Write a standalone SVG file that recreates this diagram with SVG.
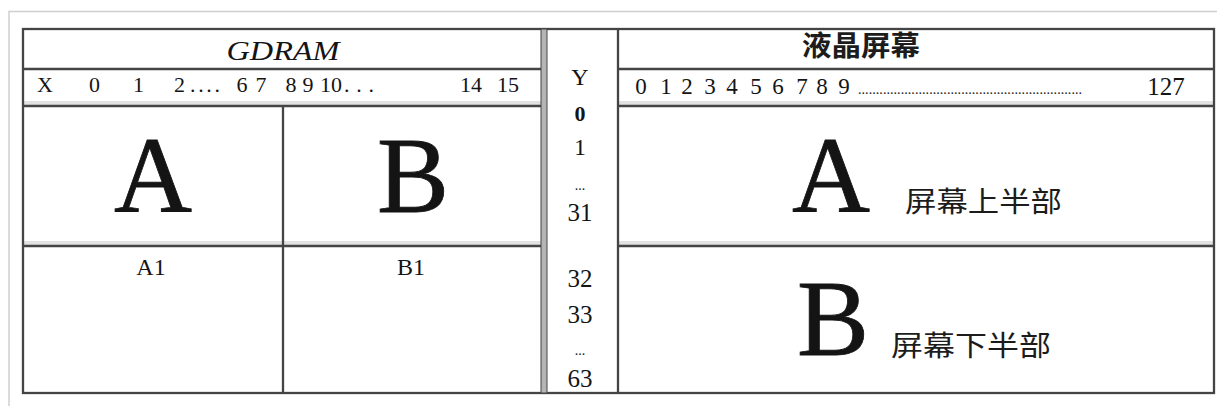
<svg xmlns="http://www.w3.org/2000/svg" width="1217" height="406" viewBox="0 0 1217 406">
<style>
.frame{stroke:#cfcfcf;stroke-width:1.5;fill:none}
.ln{stroke:#444;stroke-width:2.3;fill:none}
.shade{fill:#e2e2e2}
.t{font-family:"Liberation Serif","Times New Roman",serif;fill:#141414}
.c{text-anchor:middle}
.big{stroke:#141414;stroke-width:0.8}
.cjk{font-family:"Noto Sans CJK SC","Noto Sans CJK TC",sans-serif;fill:#1c1c1c}
</style>
<rect width="1217" height="406" fill="#ffffff"/>
<!-- outer light frame -->
<path class="frame" d="M9 406 V11.5 H1217"/>

<g id="grid">
  <rect class="shade" x="23" y="241" width="520" height="5"/>
  <rect class="shade" x="618" y="241" width="596" height="5"/>
  <rect class="shade" x="23" y="101" width="520" height="4"/>
  <rect class="shade" x="618" y="101" width="596" height="4"/>
  <rect class="ln" x="23" y="29" width="1191" height="364"/>
  <path class="ln" d="M23 69 H543 M618 69 H1214 M23 106 H543 M618 106 H1214 M23 246 H543 M618 246 H1214"/>
  <path class="ln" d="M283 106 V393 M618 29 V393"/>
  <rect x="541" y="29" width="6" height="364" fill="#b5b5b5" stroke="#444" stroke-width="1"/>
</g>

<g id="gdram-header">
  <text class="t c" x="283" y="60" font-size="28" font-style="italic" textLength="113" lengthAdjust="spacingAndGlyphs">GDRAM</text>
</g>

<g id="gdram-x-axis" class="t" font-size="22">
  <text class="c" x="45" y="92">X</text>
  <text class="c" x="94.5" y="92">0</text>
  <text class="c" x="138.5" y="92">1</text>
  <text x="174" y="92">2</text>
  <text x="190" y="92" textLength="30" lengthAdjust="spacing">....</text>
  <text class="c" x="242" y="92">6</text>
  <text class="c" x="261" y="92">7</text>
  <text class="c" x="291" y="92">8</text>
  <text class="c" x="308" y="92">9</text>
  <text x="320" y="92">10</text>
  <text x="344" y="92" textLength="30" lengthAdjust="spacing">...</text>
  <text class="c" x="471" y="92">14</text>
  <text class="c" x="508" y="92">15</text>
</g>

<g id="cell-A" class="t c">
  <text class="big" x="153" y="212" font-size="108">A</text>
</g>
<g id="cell-B" class="t c">
  <text class="big" x="413" y="212" font-size="108">B</text>
</g>
<g id="cell-A1" class="t c">
  <text x="151" y="275" font-size="24">A1</text>
</g>
<g id="cell-B1" class="t c">
  <text x="411" y="275" font-size="24">B1</text>
</g>

<g id="y-axis" class="t c" font-size="25">
  <text x="580" y="85" font-size="24">Y</text>
  <text x="580" y="121" font-size="22" font-weight="bold">0</text>
  <text x="580" y="155" font-size="24">1</text>
  <text x="580" y="190" font-size="14">...</text>
  <text x="580" y="221">31</text>
  <text x="580" y="287">32</text>
  <text x="580" y="323">33</text>
  <text x="580" y="355" font-size="14">...</text>
  <text x="580" y="387">63</text>
</g>

<g id="lcd-header">
  <text class="cjk" x="802" y="56" font-size="28" font-weight="bold" textLength="118" lengthAdjust="spacingAndGlyphs">液晶屏幕</text>
</g>

<g id="lcd-x-axis" class="t" font-size="23">
  <text class="c" x="641 666 687 710 732 756 778 802 822 844" y="94">0123456789</text>
  <text x="858" y="94" font-size="14" textLength="224" lengthAdjust="spacing">...............................................................</text>
  <text class="c" x="1166" y="95" font-size="25">127</text>
</g>

<g id="lcd-upper">
  <text class="t c big" x="831" y="212" font-size="108">A</text>
  <text class="cjk" x="905" y="212" font-size="28" textLength="157" lengthAdjust="spacingAndGlyphs">屏幕上半部</text>
</g>

<g id="lcd-lower">
  <text class="t c big" x="833" y="355" font-size="108">B</text>
  <text class="cjk" x="891" y="356" font-size="28" textLength="160" lengthAdjust="spacingAndGlyphs">屏幕下半部</text>
</g>

<g id="connectors"></g>
</svg>
